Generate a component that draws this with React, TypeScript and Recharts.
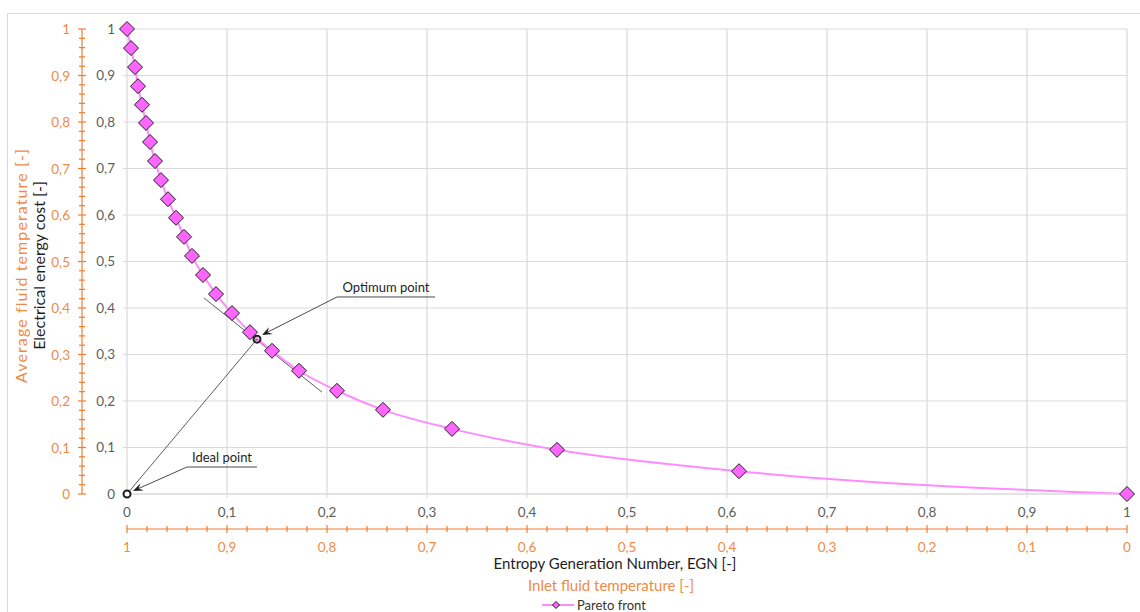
import React from "react";
import {
  ComposedChart,
  Line,
  XAxis,
  YAxis,
  CartesianGrid,
  ReferenceLine,
  ReferenceDot,
  Legend,
  Label,
} from "recharts";

// ─── Data ────────────────────────────────────────────────────────────────────

const EGN = [
  0, 0.004, 0.008, 0.011, 0.015, 0.019, 0.023, 0.028, 0.034, 0.041, 0.049, 0.057, 0.065,
  0.076, 0.089, 0.105, 0.123, 0.145, 0.172, 0.21, 0.256, 0.325, 0.43, 0.612, 1,
];
const COST = [
  1, 0.959, 0.918, 0.877, 0.837, 0.798, 0.757, 0.716, 0.675, 0.634, 0.594, 0.553, 0.512,
  0.471, 0.43, 0.389, 0.348, 0.308, 0.265, 0.222, 0.181, 0.14, 0.095, 0.049, 0,
];

const MAJOR_TICKS = [0, 0.1, 0.2, 0.3, 0.4, 0.5, 0.6, 0.7, 0.8, 0.9, 1];
const MINOR_TICKS = [
  0, 0.02, 0.04, 0.06, 0.08, 0.1, 0.12, 0.14, 0.16, 0.18, 0.2, 0.22, 0.24, 0.26, 0.28, 0.3,
  0.32, 0.34, 0.36, 0.38, 0.4, 0.42, 0.44, 0.46, 0.48, 0.5, 0.52, 0.54, 0.56, 0.58, 0.6,
  0.62, 0.64, 0.66, 0.68, 0.7, 0.72, 0.74, 0.76, 0.78, 0.8, 0.82, 0.84, 0.86, 0.88, 0.9,
  0.92, 0.94, 0.96, 0.98, 1,
];

// annotation points (EGN, cost)
const IDEAL = [0, 0];
const OPTIMUM = [0.13, 0.333];
const TANGENT = [[0.077, 0.4215], [0.195, 0.219]];
const OPT_NOTE = [[0.21, 0.4237], [0.308, 0.4237]];
const OPT_TIP = [0.135, 0.342];
const IDEAL_NOTE = [[0.06, 0.058], [0.13, 0.058]];
const IDEAL_TIP = [0.006, 0.0065];

const DATA = EGN.map((x, i) => ({ egn: x, cost: COST[i] }));

// ─── Styles ──────────────────────────────────────────────────────────────────

const FONT = "Lato, 'Liberation Sans', sans-serif";
const ORANGE = "#ED7D31";
const ORANGE_TEXT = "#F08A48";
const GRID = "#D9D9D9";
const GRAY_TEXT = "#5E5E5E";
const LINE_PINK = "#FF8CFF";
const MARK_PINK = "#FF66FF";
const INK = "#1E1E1E";

const fmt = (v: number) => String(v).replace(".", ",");
const isMajor = (v: number) => Math.round(v * 100) % 10 === 0;

// ─── Custom pieces ───────────────────────────────────────────────────────────

function Diamond({ cx, cy, index }: any) {
  if (cx == null || cy == null) return null;
  const h = 7.5;
  return (
    <path
      key={index}
      d={`M${cx},${cy - h} L${cx + h},${cy} L${cx},${cy + h} L${cx - h},${cy} Z`}
      fill={MARK_PINK}
      stroke={INK}
      strokeWidth={1}
    />
  );
}

function OrangeXTick({ x, y, payload }: any) {
  const v = payload.value;
  const major = isMajor(v);
  const t = major ? 4 : 3;
  return (
    <g>
      <line x1={x} x2={x} y1={y - t} y2={y + t} stroke={ORANGE} strokeWidth={1.2} />
      {major && (
        <text x={x} y={y + 18} textAnchor="middle" dominantBaseline="central" fill={ORANGE_TEXT} fontSize={13.5} fontFamily={FONT}>
          {fmt(v)}
        </text>
      )}
    </g>
  );
}

function OrangeYTick({ x, y, payload }: any) {
  const v = payload.value;
  const major = isMajor(v);
  const t = major ? 4 : 3;
  return (
    <g>
      <line x1={x - t} x2={x + t} y1={y} y2={y} stroke={ORANGE} strokeWidth={1.2} />
      {major && (
        <text x={x - 12} y={y} textAnchor="end" dominantBaseline="central" fill={ORANGE_TEXT} fontSize={13.5} fontFamily={FONT}>
          {fmt(v)}
        </text>
      )}
    </g>
  );
}

function Arrow({ x1, y1, x2, y2 }: any) {
  const a = Math.atan2(y2 - y1, x2 - x1);
  const c = Math.cos(a);
  const s = Math.sin(a);
  const L = 10;
  const W = 4;
  const bx = x2 - L * c;
  const by = y2 - L * s;
  const nx = x2 - L * 0.6 * c;
  const ny = y2 - L * 0.6 * s;
  return (
    <g>
      <line x1={x1} y1={y1} x2={nx} y2={ny} stroke={INK} strokeWidth={0.8} />
      <path
        d={`M${x2},${y2} L${bx - W * s},${by + W * c} L${nx},${ny} L${bx + W * s},${by - W * c} Z`}
        fill={INK}
      />
    </g>
  );
}

const callout = (text: string) =>
  function Callout({ x1, y1, x2, y2 }: any) {
    return (
      <g>
        <line x1={x1} y1={y1} x2={x2} y2={y2} stroke={INK} strokeWidth={0.8} />
        <text x={(x1 + x2) / 2} y={y1 - 5} textAnchor="middle" fill={INK} fontSize={13} fontFamily={FONT}>
          {text}
        </text>
      </g>
    );
  };

function ThinLine({ x1, y1, x2, y2 }: any) {
  return <line x1={x1} y1={y1} x2={x2} y2={y2} stroke="#333" strokeWidth={0.8} />;
}

function YTitles({ viewBox }: any) {
  const { x, y, height } = viewBox;
  const cy = y + height / 2 + 4;
  return (
    <g fontFamily={FONT}>
      <text
        x={x + 13}
        y={cy}
        transform={`rotate(-90 ${x + 13} ${cy})`}
        textAnchor="middle"
        dominantBaseline="central"
        fill={ORANGE_TEXT}
        fontSize={16}
        letterSpacing={1.1}
      >
        Average fluid temperature [-]
      </text>
      <text
        x={x + 31}
        y={cy}
        transform={`rotate(-90 ${x + 31} ${cy})`}
        textAnchor="middle"
        dominantBaseline="central"
        fill={INK}
        fontSize={16}
      >
        Electrical energy cost [-]
      </text>
    </g>
  );
}

function XTitles({ viewBox }: any) {
  const { x, y, width } = viewBox;
  const cx = x + width / 2;
  return (
    <g fontFamily={FONT} fontSize={15} textAnchor="middle">
      <text x={cx - 12} y={y + 34} dominantBaseline="central" fill={INK}>
        Entropy Generation Number, EGN [-]
      </text>
      <text x={cx - 16} y={y + 56} dominantBaseline="central" fill={ORANGE_TEXT}>
        Inlet fluid temperature [-]
      </text>
    </g>
  );
}

function LegendContent() {
  return (
    <div style={{ display: "flex", alignItems: "center", fontFamily: FONT, fontSize: 13, color: "#333" }}>
      <svg width={32} height={12}>
        <line x1={0} y1={6} x2={32} y2={6} stroke={LINE_PINK} strokeWidth={2} />
        <path d="M14,2.5 L17.5,6 L14,9.5 L10.5,6 Z" fill={MARK_PINK} stroke={INK} strokeWidth={1} />
      </svg>
      <span style={{ marginLeft: 3 }}>Pareto front</span>
    </div>
  );
}

// ─── Component ───────────────────────────────────────────────────────────────

export default function App() {
  return (
    <div style={{ position: "absolute", left: 0, top: 0, width: 1140, height: 612, overflow: "hidden", background: "#fff" }}>
      <div style={{ position: "absolute", left: 7, top: 13, width: 1200, height: 700, border: `1px solid ${GRID}` }} />
      <div style={{ position: "absolute", left: 0, top: 0 }}>
        <ComposedChart width={1140} height={612} data={DATA} margin={{ top: 29, right: 13, bottom: 53, left: 7 }}>
          <CartesianGrid xAxisId="egn" yAxisId="cost" stroke={GRID} strokeWidth={1.2} />
          <XAxis
            xAxisId="egn"
            dataKey="egn"
            type="number"
            domain={[0, 1]}
            ticks={MAJOR_TICKS}
            interval={0}
            tickFormatter={fmt}
            height={35}
            axisLine={{ stroke: GRID }}
            tickLine={{ stroke: GRID }}
            tickSize={4}
            tickMargin={9}
            tick={{ fill: GRAY_TEXT, fontSize: 13.5, fontFamily: FONT }}
          />
          <XAxis
            xAxisId="inlet"
            dataKey="egn"
            type="number"
            domain={[0, 1]}
            reversed
            ticks={MINOR_TICKS}
            interval={0}
            height={30}
            axisLine={{ stroke: ORANGE, strokeWidth: 1.2 }}
            tickLine={false}
            tickSize={0}
            tickMargin={0}
            tick={<OrangeXTick />}
          >
            <Label content={<XTitles />} />
          </XAxis>
          <YAxis
            yAxisId="cost"
            type="number"
            domain={[0, 1]}
            ticks={MAJOR_TICKS}
            interval={0}
            tickFormatter={fmt}
            width={45}
            axisLine={false}
            tickLine={{ stroke: GRID }}
            tickSize={4}
            tickMargin={8}
            tick={{ fill: GRAY_TEXT, fontSize: 13.5, fontFamily: FONT }}
          />
          <YAxis
            yAxisId="temp"
            dataKey="cost"
            type="number"
            domain={[0, 1]}
            ticks={MINOR_TICKS}
            interval={0}
            width={75}
            axisLine={{ stroke: ORANGE, strokeWidth: 1.2 }}
            tickLine={false}
            tickSize={0}
            tickMargin={0}
            tick={<OrangeYTick />}
          >
            <Label content={<YTitles />} />
          </YAxis>

          <ReferenceLine
            xAxisId="egn"
            yAxisId="cost"
            segment={[{ x: TANGENT[0][0], y: TANGENT[0][1] }, { x: TANGENT[1][0], y: TANGENT[1][1] }]}
            shape={ThinLine}
          />

          <Line
            xAxisId="egn"
            yAxisId="cost"
            dataKey="cost"
            name="Pareto front"
            type="monotone"
            stroke={LINE_PINK}
            strokeWidth={2}
            dot={Diamond}
            activeDot={false}
            isAnimationActive={false}
          />

          <ReferenceLine
            xAxisId="egn"
            yAxisId="cost"
            segment={[{ x: IDEAL[0], y: IDEAL[1] }, { x: OPTIMUM[0], y: OPTIMUM[1] }]}
            shape={ThinLine}
          />
          <ReferenceLine
            xAxisId="egn"
            yAxisId="cost"
            segment={[{ x: OPT_NOTE[0][0], y: OPT_NOTE[0][1] }, { x: OPT_NOTE[1][0], y: OPT_NOTE[1][1] }]}
            shape={callout("Optimum point")}
          />
          <ReferenceLine
            xAxisId="egn"
            yAxisId="cost"
            segment={[{ x: OPT_NOTE[0][0], y: OPT_NOTE[0][1] }, { x: OPT_TIP[0], y: OPT_TIP[1] }]}
            shape={Arrow}
          />
          <ReferenceLine
            xAxisId="egn"
            yAxisId="cost"
            segment={[{ x: IDEAL_NOTE[0][0], y: IDEAL_NOTE[0][1] }, { x: IDEAL_NOTE[1][0], y: IDEAL_NOTE[1][1] }]}
            shape={callout("Ideal point")}
          />
          <ReferenceLine
            xAxisId="egn"
            yAxisId="cost"
            segment={[{ x: IDEAL_NOTE[0][0], y: IDEAL_NOTE[0][1] }, { x: IDEAL_TIP[0], y: IDEAL_TIP[1] }]}
            shape={Arrow}
          />
          <ReferenceDot xAxisId="egn" yAxisId="cost" x={OPTIMUM[0]} y={OPTIMUM[1]} r={3.5} fill="none" stroke={INK} strokeWidth={2} />
          <ReferenceDot xAxisId="egn" yAxisId="cost" x={IDEAL[0]} y={IDEAL[1]} r={3.5} fill="#fff" stroke={INK} strokeWidth={2} />

          <Legend
            layout="horizontal"
            verticalAlign="middle"
            align="center"
            content={<LegendContent />}
            wrapperStyle={{ top: 597, left: 542, width: 140 }}
          />
        </ComposedChart>
      </div>
    </div>
  );
}
